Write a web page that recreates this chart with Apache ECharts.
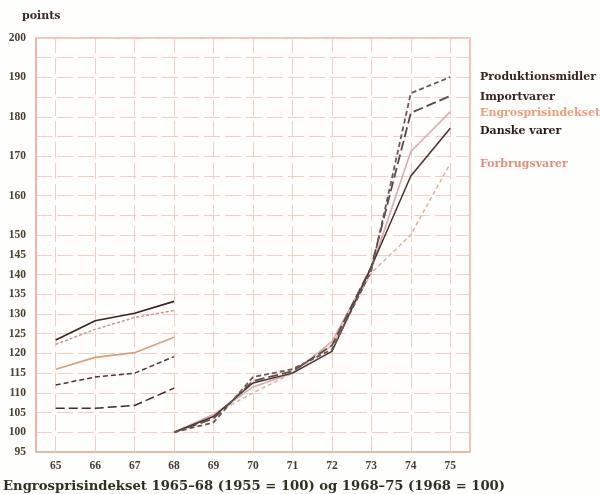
<!DOCTYPE html>
<html><head><meta charset="utf-8">
<script src="https://cdn.jsdelivr.net/npm/echarts@6/dist/echarts.min.js"></script>
<style>html,body{margin:0;padding:0;background:#fefefc}#c{width:600px;height:494px}</style>
</head><body><div id="c"></div>
<script>
// Period 1: 1965-68 (1955 = 100)
const years1 = [65, 66, 67, 68];
const prod1 = [112, 114, 115, 119.2];
const import1 = [106.1, 106.1, 106.8, 111.2];
const engros1 = [116, 119, 120.2, 124.1];
const danske1 = [123.4, 128.3, 130.2, 133.2];
const forbrug1 = [122.3, 126.1, 129.1, 130.9];
// Period 2: 1968-75 (1968 = 100)
const years2 = [68, 69, 70, 71, 72, 73, 74, 75];
const prod2 = [100, 102.5, 114, 116, 121, 141, 186, 190.1];
const import2 = [100, 103.5, 113, 115.5, 122, 142, 181, 185.3];
const engros2 = [100, 104.5, 111.5, 115, 123, 141.5, 171.2, 181.3];
const danske2 = [100, 104, 112.5, 115, 120.5, 142, 165, 177.1];
const forbrug2 = [100, 104.5, 110, 115, 122, 140.4, 150.1, 168.2];
const xTicks = [65, 66, 67, 68, 69, 70, 71, 72, 73, 74, 75];
const yLabels = [95,100,105,110,115,120,125,130,135,140,145,150,160,170,180,190,200];
const legendNames = ['Produktionsmidler', 'Importvarer', 'Engrosprisindekset', 'Danske varer', 'Forbrugsvarer'];

const chart = echarts.init(document.getElementById('c'));
const zip = (xs, ys) => xs.map((x, i) => [x, ys[i]]);
function s(xs, ys, color, type, width) {
  return { type: 'line', data: zip(xs, ys), symbol: 'none', silent: true, z: 3,
    lineStyle: { color: color, width: width || 1.4, type: type } };
}
const serif = '"Liberation Serif", "DejaVu Serif", serif';
const wide = '"DejaVu Serif", serif';
const gridColor = '#f0cec4';
const legendColors = ['#3a2620', '#3a2620', '#e8a080', '#2e1e1a', '#e0907a'];
const legendY = [76, 96, 112, 130, 163];
const series = [
  s(years1, import1, '#3e2c28', [9, 4], 1.5),
  s(years1, prod1, '#4a3834', [5, 3], 1.5),
  s(years1, engros1, '#d8a078', 'solid', 1.6),
  s(years1, forbrug1, '#c89088', [3, 2], 1.4),
  s(years1, danske1, '#3a2420', 'solid', 1.6),
  s(years2, forbrug2, '#dcae98', [4, 3], 1.4),
  s(years2, engros2, '#d8aaa8', 'solid', 1.6),
  s(years2, danske2, '#4a2e28', 'solid', 1.5),
  s(years2, import2, '#5a4a46', [10, 4], 1.8),
  s(years2, prod2, '#6a5a56', [5, 3], 1.8)
];
series[0].markLine = {
  silent: true, symbol: 'none', label: { show: false }, z: 1,
  lineStyle: { color: gridColor, type: [16, 5], width: 1 },
  data: xTicks.map(x => ({ xAxis: x }))
};
chart.setOption({
  backgroundColor: '#fefefc',
  animation: false,
  grid: { left: 36, right: 130, top: 38, bottom: 42, show: true, borderColor: '#eeb0a8', borderWidth: 1.5, backgroundColor: 'transparent' },
  xAxis: {
    type: 'value', min: 64.5, max: 75.5, interval: 0.5,
    axisLine: { show: true, lineStyle: { color: '#e0b8a0', width: 1.5 } },
    axisTick: { show: false },
    axisLabel: { color: '#4a3a34', fontFamily: serif, fontSize: 11.5, fontWeight: 'bold', margin: 8,
      formatter: v => xTicks.includes(v) ? String(v) : '' },
    splitLine: { show: false }
  },
  yAxis: {
    type: 'value', min: 95, max: 200, interval: 5,
    axisLine: { show: true, lineStyle: { color: '#eeb0a0', width: 1.5 } },
    axisTick: { show: false },
    axisLabel: { color: '#4a4030', fontFamily: serif, fontSize: 11.5, fontWeight: 'bold', margin: 10,
      formatter: v => yLabels.includes(v) ? String(v) : '' },
    splitLine: { show: true, lineStyle: { color: gridColor, type: [16, 5], width: 1 } }
  },
  series: series,
  graphic: [
    { type: 'text', left: 22, top: 11, style: { text: 'points', font: 'bold 11px ' + wide, fill: '#3a2a22' } },
    { type: 'text', left: 3, top: 480, style: { text: 'Engrosprisindekset 1965–68 (1955 = 100) og 1968–75 (1968 = 100)', font: 'bold 13.2px ' + wide, fill: '#2e3020' } }
  ].concat(legendNames.map((n, i) => ({
    type: 'text', left: 480, top: legendY[i] - 4,
    style: { text: n, font: 'bold 11px ' + wide, fill: legendColors[i] }
  })))
});
</script></body></html>
